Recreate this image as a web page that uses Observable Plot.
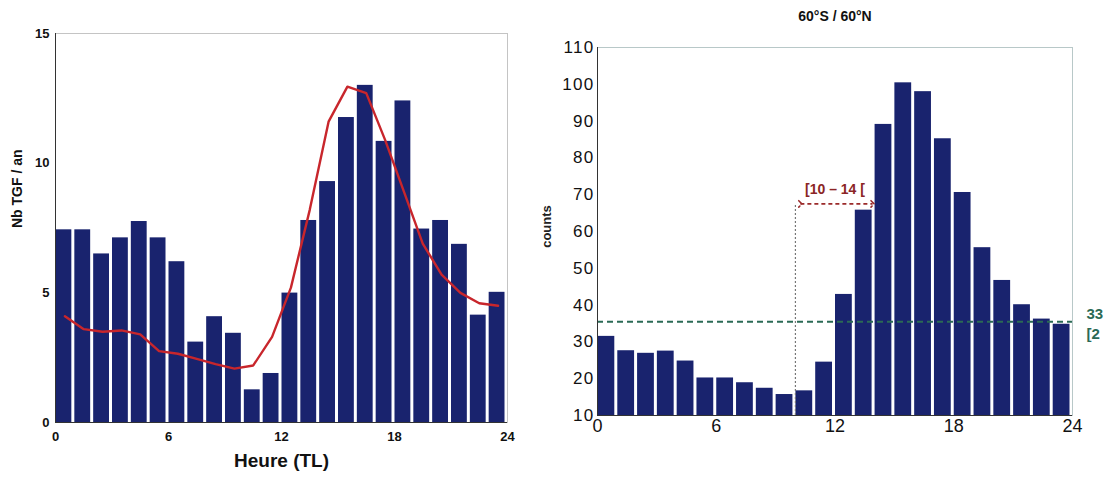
<!DOCTYPE html>
<html><head><meta charset="utf-8">
<script src="https://cdn.jsdelivr.net/npm/d3@7"></script>
<script src="https://cdn.jsdelivr.net/npm/@observablehq/plot@0.6"></script>
<style>
body{margin:0;background:#fff;}
#wrap{position:relative;width:1106px;height:477px;overflow:hidden;font-family:"Liberation Sans",Arial,sans-serif;background:#fff;}
#left,#right{position:absolute;top:0}
#left{left:0} #right{left:540px}
#title{position:absolute;left:735px;width:200px;top:8px;text-align:center;font-size:14px;font-weight:bold;color:#111;}
#ylab2{position:absolute;left:525px;top:219px;transform:rotate(-90deg);font-size:13px;font-weight:bold;color:#222;white-space:nowrap;}
.rplot g[aria-label="y-axis tick label"] text{letter-spacing:1.3px;}
</style></head><body>
<div id="wrap"><div id="left"></div><div id="right"></div>
<div id="title">60°S / 60°N</div>
<div id="ylab2">counts</div>
</div>
<script>
const hours = [0,1,2,3,4,5,6,7,8,9,10,11,12,13,14,15,16,17,18,19,20,21,22,23];
const xTicks = [0,6,12,18,24];
const leftYTicks = [0,5,10,15];
const rightYTicks = [10,20,30,40,50,60,70,80,90,100,110];
const tgfPerYear = [7.43,7.43,6.5,7.12,7.75,7.12,6.2,3.1,4.08,3.44,1.26,1.89,4.99,7.79,9.29,11.76,13.0,10.84,12.4,7.46,7.79,6.87,4.14,5.02];
const tgfSmooth = [4.1,3.6,3.5,3.55,3.4,2.75,2.65,2.45,2.25,2.08,2.2,3.3,5.2,8.2,11.6,12.95,12.7,10.9,8.9,6.9,5.7,5.0,4.6,4.5];
const counts = [31.5,27.6,26.9,27.5,24.8,20.2,20.2,18.9,17.4,15.7,16.7,24.5,42.9,65.8,89.1,100.4,98,85.2,70.6,55.6,46.7,40.1,36.2,34.8];
const meanLevel = 35.5;
const windowStart = 10, windowEnd = 14, windowLevel = 67.5;

const navy = "#19236e";
const font = "'Liberation Sans', Arial, sans-serif";

const leftData = hours.map((h,i)=>({h, v: tgfPerYear[i], s: tgfSmooth[i]}));
const rightData = hours.map((h,i)=>({h, v: counts[i]}));

const left = Plot.plot({
  width:540, height:477, marginLeft:55, marginRight:33, marginTop:33, marginBottom:55,
  x:{domain:[0,24]}, y:{domain:[0,15]},
  style:{fontFamily:font, background:"transparent", color:"#111", overflow:"visible"},
  marks:[
    Plot.frame({stroke:"#c4c4c4"}),
    Plot.rectY(leftData,{x1:"h", x2:d=>d.h+1, y1:0, y2:"v", fill:navy, insetLeft:0.5, insetRight:2.5}),
    Plot.line(leftData,{x:d=>d.h+0.5, y:"s", stroke:"#c8262c", strokeWidth:2.4, curve:"linear"}),
    Plot.ruleY([0],{stroke:"#333"}),
    Plot.ruleX([0],{stroke:"#333"}),
    Plot.axisX({ticks:xTicks, tickSize:0, tickPadding:9, label:null, fontSize:13, fontWeight:"bold"}),
    Plot.axisY({ticks:leftYTicks, tickSize:0, tickPadding:6, label:null, fontSize:13, fontWeight:"bold"}),
    Plot.text(["Heure (TL)"],{frameAnchor:"bottom", dy:44, fontSize:19, fontWeight:"bold", fill:"#111"}),
    Plot.text(["Nb TGF / an"],{frameAnchor:"left", dx:-38, rotate:-90, fontSize:14, fontWeight:"bold", fill:"#111"})
  ]
});
document.getElementById("left").append(left);

const right = Plot.plot({
  className:"rplot",
  width:566, height:477, marginLeft:57, marginRight:34, marginTop:47, marginBottom:62,
  x:{domain:[0,24]}, y:{domain:[10,110]},
  style:{fontFamily:font, background:"transparent", color:"#111", overflow:"visible"},
  marks:[
    Plot.frame({stroke:"#b8c8c8"}),
    Plot.rectY(rightData,{x1:"h", x2:d=>d.h+1, y1:10, y2:"v", fill:navy, insetLeft:0.5, insetRight:2.5}),
    Plot.ruleX([windowStart],{y1:10, y2:windowLevel, stroke:"#777", strokeDasharray:"2,2", strokeWidth:1.2}),
    Plot.link([{a:windowStart+0.25, b:windowEnd-0.1}],{x1:"a", x2:"b", y1:windowLevel, y2:windowLevel, stroke:"#9b2a2a", strokeWidth:1.6, strokeDasharray:"4,3", markerStart:"arrow", markerEnd:"arrow"}),
    Plot.text(["[10 – 14 ["],{x:12, y:windowLevel, dy:-14, fontSize:14, fontWeight:"bold", fill:"#8b2525"}),
    Plot.ruleY([meanLevel],{x1:0, x2:24, stroke:"#2b6a55", strokeWidth:2, strokeDasharray:"6,4"}),
    Plot.text(["33"],{x:24, y:meanLevel, dx:14, dy:-7, textAnchor:"start", fontSize:15, fontWeight:"bold", fill:"#2b6a55", clip:false}),
    Plot.text(["[2"],{x:24, y:meanLevel, dx:14, dy:13, textAnchor:"start", fontSize:15, fontWeight:"bold", fill:"#2b6a55", clip:false}),
    Plot.ruleY([10],{stroke:"#333"}),
    Plot.ruleX([0],{stroke:"#333"}),
    Plot.axisX({ticks:xTicks, tickSize:0, tickPadding:4, label:null, fontSize:18}),
    Plot.axisY({ticks:rightYTicks, tickSize:0, tickPadding:3, label:null, fontSize:17})
  ]
});
document.getElementById("right").append(right);
</script>
</body></html>
